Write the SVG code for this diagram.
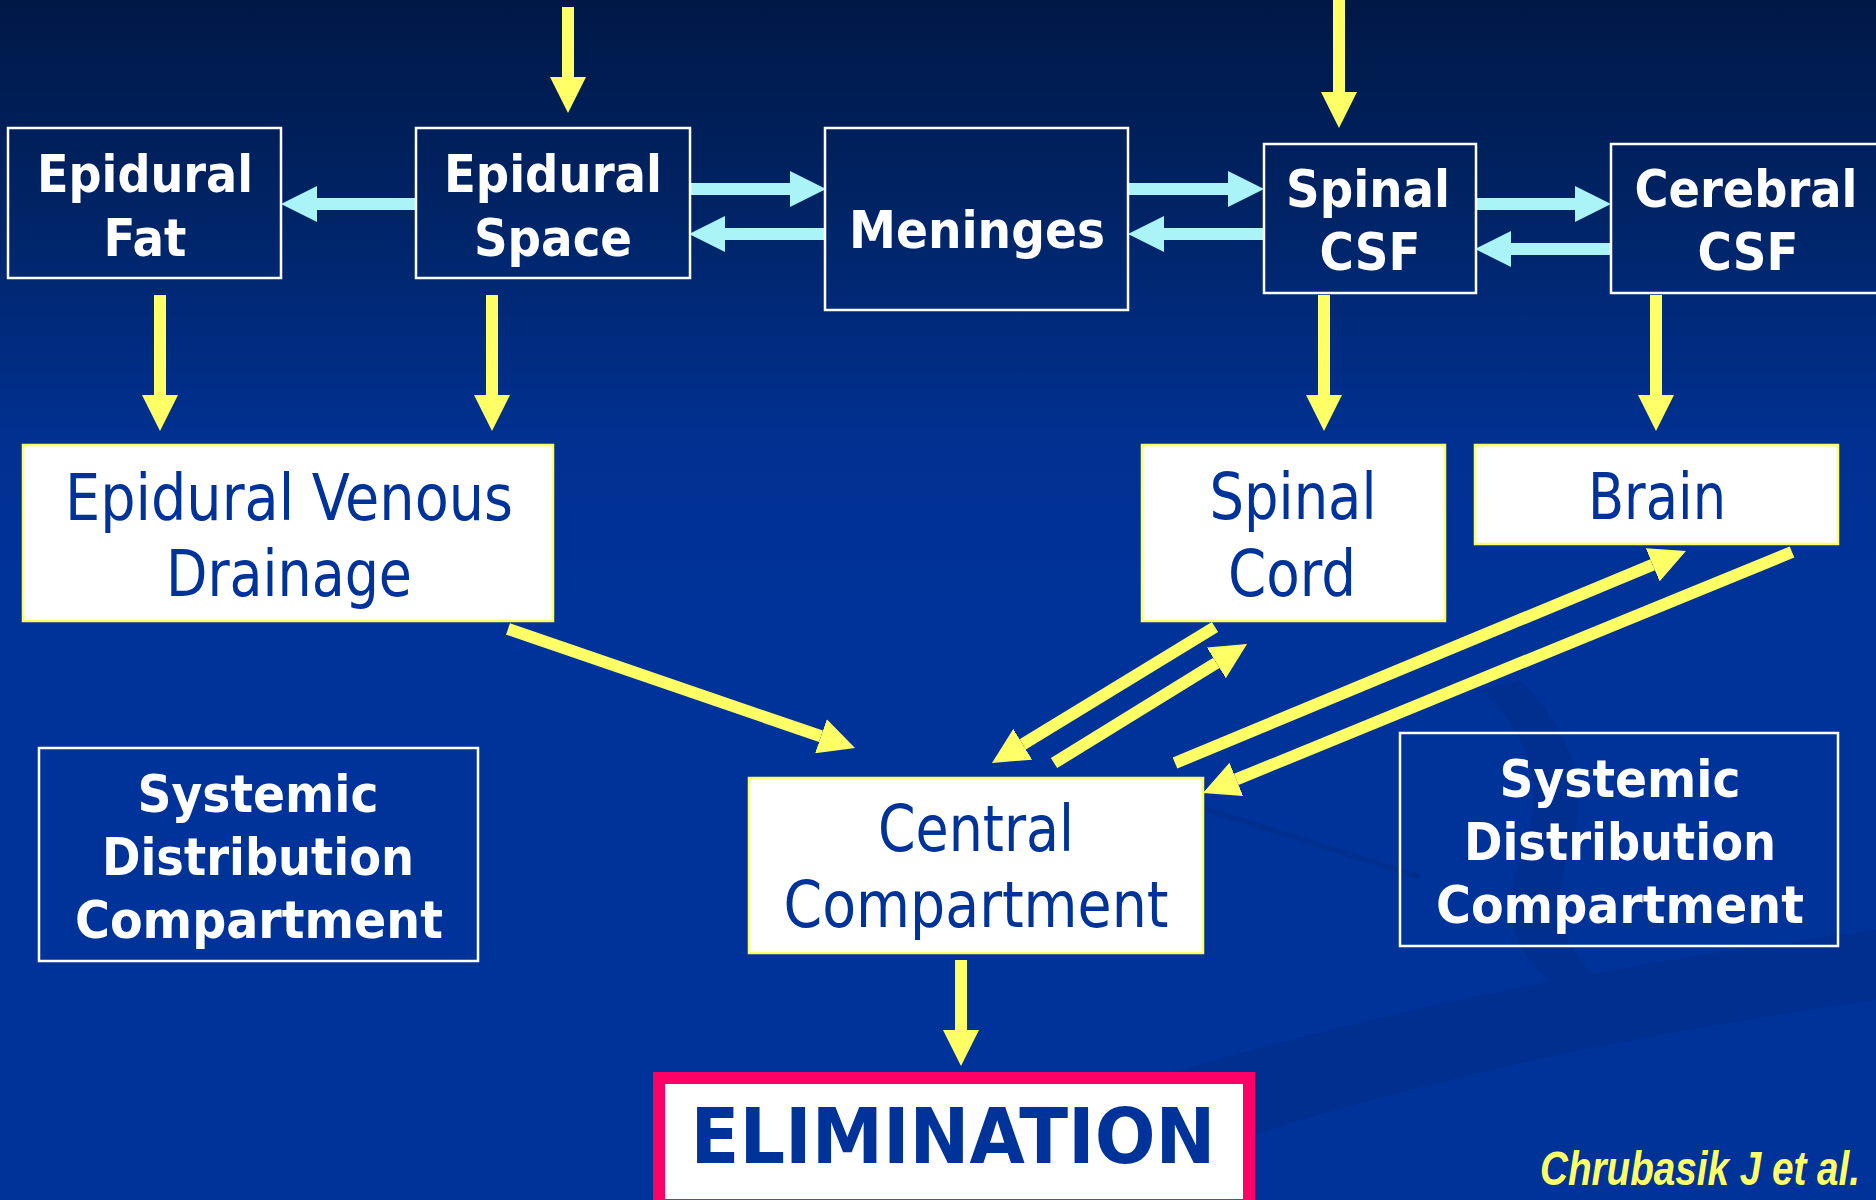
<svg xmlns="http://www.w3.org/2000/svg" width="1876" height="1200" viewBox="0 0 1876 1200">
<defs>
<linearGradient id="bg" x1="0" y1="0" x2="0" y2="1">
<stop offset="0" stop-color="#001846"/>
<stop offset="0.18" stop-color="#002466"/>
<stop offset="0.36" stop-color="#003090"/>
<stop offset="0.5" stop-color="#003399"/>
<stop offset="1" stop-color="#003399"/>
</linearGradient>
<marker id="hy" markerUnits="userSpaceOnUse" markerWidth="36" markerHeight="36" refX="0" refY="18" orient="auto" viewBox="0 0 36 36">
<path d="M0,0 L36,18 L0,36 Z" fill="#ffff66"/>
</marker>
<marker id="hc" markerUnits="userSpaceOnUse" markerWidth="36" markerHeight="36" refX="0" refY="18" orient="auto" viewBox="0 0 36 36">
<path d="M0,0 L36,18 L0,36 Z" fill="#aaf4f8"/>
</marker>
<style>
.dark{fill:none;stroke:#ffffff;stroke-width:2.5}
.light{fill:#ffffff;stroke:#ffff66;stroke-width:2.5}
.tb{font-family:"DejaVu Sans Condensed","DejaVu Sans",sans-serif;font-stretch:condensed;font-weight:bold;font-size:52px;fill:#ffffff;text-anchor:middle}
.tr{font-family:"DejaVu Sans Condensed","DejaVu Sans",sans-serif;font-stretch:condensed;font-size:64px;fill:#003399;text-anchor:middle}
.ya{stroke:#ffff66;stroke-width:12;fill:none;marker-end:url(#hy)}
.ca{stroke:#aaf4f8;stroke-width:12;fill:none;marker-end:url(#hc)}
</style>
</defs>
<rect x="0" y="0" width="1876" height="1200" fill="url(#bg)"/>
<g id="background-swooshes" fill="#002c88" opacity="0.55">
<path d="M820,1200 Q1250,1010 1876,930 L1876,1000 Q1380,1070 1080,1200 Z"/>
<path d="M1480,690 Q1560,760 1520,860 Q1490,940 1560,990 L1600,980 Q1540,930 1570,850 Q1600,760 1520,680 Z"/>
<path d="M1205,806 L1420,874 L1420,880 L1205,812 Z"/>
</g>
<g id="connectors">
<line class="ya" x1="568" y1="7" x2="568" y2="77"/>
<line class="ya" x1="1339" y1="0" x2="1339" y2="92"/>
<line class="ca" x1="416" y1="204" x2="317" y2="204"/>
<line class="ca" x1="690" y1="189" x2="790" y2="189"/>
<line class="ca" x1="825" y1="234" x2="725" y2="234"/>
<line class="ca" x1="1128" y1="189" x2="1228" y2="189"/>
<line class="ca" x1="1264" y1="234" x2="1164" y2="234"/>
<line class="ca" x1="1476" y1="204" x2="1575" y2="204"/>
<line class="ca" x1="1611" y1="249" x2="1511" y2="249"/>
<line class="ya" x1="160" y1="295" x2="160" y2="395"/>
<line class="ya" x1="492" y1="295" x2="492" y2="395"/>
<line class="ya" x1="1324" y1="295" x2="1324" y2="395"/>
<line class="ya" x1="1656" y1="295" x2="1656" y2="395"/>
<line class="ya" x1="508" y1="629" x2="821" y2="736.3"/>
<line class="ya" x1="1215" y1="627" x2="1022.7" y2="744.3"/>
<line class="ya" x1="1054" y1="763" x2="1216.4" y2="662.9"/>
<line class="ya" x1="1175" y1="763" x2="1652.7" y2="564.8"/>
<line class="ya" x1="1792" y1="552" x2="1236.3" y2="779.4"/>
<line class="ya" x1="961" y1="960" x2="961" y2="1030"/>
</g>
<g id="epidural-fat">
<rect class="dark" x="8" y="128" width="273" height="150"/>
<text class="tb" x="145" y="192" textLength="216" lengthAdjust="spacingAndGlyphs">Epidural</text>
<text class="tb" x="145" y="256">Fat</text>
</g>
<g id="epidural-space">
<rect class="dark" x="416" y="128" width="274" height="150"/>
<text class="tb" x="553" y="192" textLength="218" lengthAdjust="spacingAndGlyphs">Epidural</text>
<text class="tb" x="553" y="256">Space</text>
</g>
<g id="meninges">
<rect class="dark" x="825" y="128" width="303" height="182"/>
<text class="tb" x="977" y="248" textLength="256" lengthAdjust="spacingAndGlyphs">Meninges</text>
</g>
<g id="spinal-csf">
<rect class="dark" x="1264" y="144" width="212" height="149"/>
<text class="tb" x="1368" y="207" textLength="164" lengthAdjust="spacingAndGlyphs">Spinal</text>
<text class="tb" x="1370" y="270">CSF</text>
</g>
<g id="cerebral-csf">
<rect class="dark" x="1611" y="144" width="275" height="149"/>
<text class="tb" x="1746" y="207" textLength="223" lengthAdjust="spacingAndGlyphs">Cerebral</text>
<text class="tb" x="1748" y="270">CSF</text>
</g>
<g id="epidural-venous-drainage">
<rect class="light" x="23" y="445" width="530" height="176"/>
<text class="tr" x="289" y="520" textLength="448" lengthAdjust="spacingAndGlyphs">Epidural Venous</text>
<text class="tr" x="289" y="596" textLength="246" lengthAdjust="spacingAndGlyphs">Drainage</text>
</g>
<g id="spinal-cord">
<rect class="light" x="1142" y="445" width="303" height="176"/>
<text class="tr" x="1293" y="519" textLength="167" lengthAdjust="spacingAndGlyphs">Spinal</text>
<text class="tr" x="1292" y="596" textLength="128" lengthAdjust="spacingAndGlyphs">Cord</text>
</g>
<g id="brain">
<rect class="light" x="1475" y="445" width="363" height="99"/>
<text class="tr" x="1657" y="519" textLength="138" lengthAdjust="spacingAndGlyphs">Brain</text>
</g>
<g id="central-compartment">
<rect class="light" x="749" y="778" width="454" height="175"/>
<text class="tr" x="976" y="851" textLength="196" lengthAdjust="spacingAndGlyphs">Central</text>
<text class="tr" x="976" y="927" textLength="385" lengthAdjust="spacingAndGlyphs">Compartment</text>
</g>
<g id="systemic-left">
<rect class="dark" x="39" y="748" width="439" height="213"/>
<text class="tb" x="258" y="812" textLength="241" lengthAdjust="spacingAndGlyphs">Systemic</text>
<text class="tb" x="258" y="875" textLength="312" lengthAdjust="spacingAndGlyphs">Distribution</text>
<text class="tb" x="259" y="938" textLength="368" lengthAdjust="spacingAndGlyphs">Compartment</text>
</g>
<g id="systemic-right">
<rect class="dark" x="1400" y="733" width="438" height="213"/>
<text class="tb" x="1620" y="797" textLength="241" lengthAdjust="spacingAndGlyphs">Systemic</text>
<text class="tb" x="1620" y="860" textLength="312" lengthAdjust="spacingAndGlyphs">Distribution</text>
<text class="tb" x="1620" y="923" textLength="368" lengthAdjust="spacingAndGlyphs">Compartment</text>
</g>
<g id="elimination">
<rect x="659" y="1078" width="590" height="127" fill="#ffffff" stroke="#ff0066" stroke-width="12"/>
<text x="953" y="1163" font-family="DejaVu Sans, sans-serif" font-weight="bold" font-size="77" fill="#003399" text-anchor="middle" textLength="525" lengthAdjust="spacingAndGlyphs">ELIMINATION</text>
</g>
<text id="citation" x="1860" y="1185" font-family="Liberation Sans, Arial, sans-serif" font-weight="bold" font-style="italic" font-size="49" fill="#ffff66" text-anchor="end" textLength="320" lengthAdjust="spacingAndGlyphs">Chrubasik J et al.</text>
</svg>
